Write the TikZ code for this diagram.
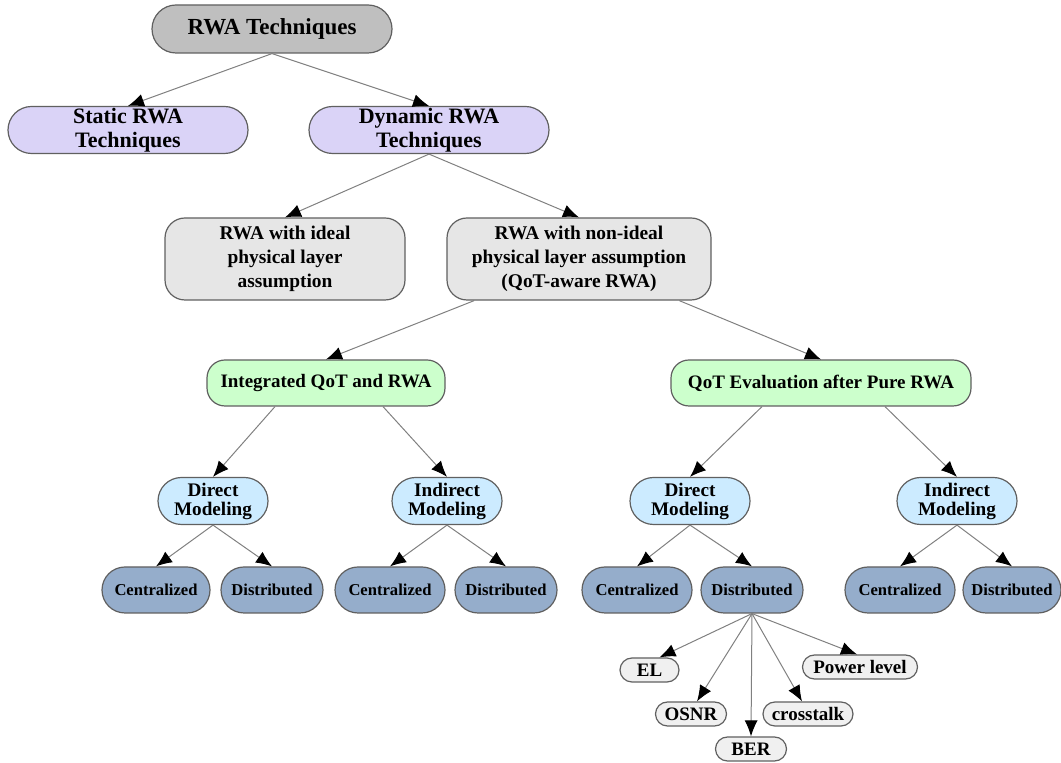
\documentclass[tikz,border=0pt]{standalone}
\usepackage{fontspec}
\setmainfont{Liberation Serif}
\usetikzlibrary{shapes,arrows.meta}
\definecolor{rootgray}{HTML}{BFBFBF}
\definecolor{lavender}{HTML}{DAD3F7}
\definecolor{lightgray}{HTML}{E6E6E6}
\definecolor{mint}{HTML}{CCFFCC}
\definecolor{skyblue}{HTML}{CCEBFF}
\definecolor{steel}{HTML}{95ADCB}
\definecolor{paper}{HTML}{F0F0F0}
\definecolor{bordergray}{HTML}{606060}
\definecolor{edgegray}{HTML}{808080}
\tikzstyle{block} = [rectangle, draw=bordergray, line width=0.6pt,
    text centered, align=center, inner sep=0pt]
\tikzstyle{pill} = [block, rounded rectangle]
\tikzstyle{topblock} = [pill, fill=rootgray, minimum width=120pt, minimum height=24pt,
    font=\bfseries\fontsize{11.5}{12}\selectfont]
\tikzstyle{kind} = [pill, fill=lavender, minimum width=120pt, minimum height=23.5pt,
    font=\bfseries\fontsize{11}{12}\selectfont]
\tikzstyle{layer} = [block, rounded corners=10pt, fill=lightgray, minimum height=41pt,
    font=\bfseries\fontsize{9.7}{12}\selectfont]
\tikzstyle{approach} = [block, rounded corners=9pt, fill=mint, minimum height=23pt,
    font=\bfseries\fontsize{9.5}{11}\selectfont]
\tikzstyle{model} = [pill, fill=skyblue, minimum height=23.5pt,
    font=\bfseries\fontsize{9.6}{9.5}\selectfont]
\tikzstyle{ctrl} = [pill, fill=steel, minimum height=23pt,
    font=\bfseries\fontsize{8.3}{10}\selectfont]
\tikzstyle{metric} = [pill, fill=paper, minimum height=12pt,
    font=\bfseries\fontsize{9.5}{10}\selectfont]
\tikzstyle{line} = [draw=edgegray, line width=0.5pt, -{Latex[length=8pt,width=6.5pt,color=black]}]

\begin{document}
\begin{tikzpicture}[x=0.5pt, y=-0.5pt]
\useasboundingbox (0,0) rectangle (1061,763);

\node [topblock] at (272,29) (rwa) {RWA Techniques};
\node [kind] at (128,130) (static) {Static RWA\\Techniques};
\node [kind] at (429,130) (dynamic) {Dynamic RWA\\Techniques};
\node [layer, minimum width=120pt] at (285,259) (ideal) {RWA with ideal\\physical layer\\assumption};
\node [layer, minimum width=132pt] at (579,259) (nonideal) {RWA with non-ideal\\physical layer assumption\\(QoT-aware RWA)};
\node [approach, minimum width=119pt] at (326,383) (integrated) {Integrated QoT and RWA};
\node [approach, minimum width=150pt] at (821,383) (evaluation) {QoT Evaluation after Pure RWA};

\node [model, minimum width=55pt] at (213,501) (directA) {Direct\\Modeling};
\node [model, minimum width=55pt] at (447,501) (indirectA) {Indirect\\Modeling};
\node [model, minimum width=60pt] at (690,501) (directB) {Direct\\Modeling};
\node [model, minimum width=60pt] at (957,501) (indirectB) {Indirect\\Modeling};

\node [ctrl, minimum width=54pt] at (156,590) (centA) {Centralized};
\node [ctrl, minimum width=51pt] at (272,590) (distA) {Distributed};
\node [ctrl, minimum width=55pt] at (390,590) (centB) {Centralized};
\node [ctrl, minimum width=51pt] at (506,590) (distB) {Distributed};
\node [ctrl, minimum width=55pt] at (637,590) (centC) {Centralized};
\node [ctrl, minimum width=51pt] at (752,590) (distC) {Distributed};
\node [ctrl, minimum width=55pt] at (900,590) (centD) {Centralized};
\node [ctrl, minimum width=49pt] at (1012,590) (distD) {Distributed};

\node [metric, minimum width=29.5pt] at (649.5,670) (el) {EL};
\node [metric, minimum width=57.5pt] at (860,667) (power) {Power level};
\node [metric, minimum width=35.5pt] at (691,714) (osnr) {OSNR};
\node [metric, minimum width=45pt] at (808,714) (xtalk) {crosstalk};
\node [metric, minimum width=35.5pt] at (751,749) (ber) {BER};

\draw [line] (rwa.south) -- (static.north);
\draw [line] (rwa.south) -- (dynamic.north);
\draw [line] (dynamic.south) -- (ideal.north);
\draw [line] (dynamic.south) -- (nonideal.north);
\draw [line] (nonideal) -- (integrated.north);
\draw [line] (nonideal) -- (evaluation.north);

\draw [line] ([xshift=-25.5pt] integrated.south) -- (directA.north);
\draw [line] ([xshift=28.5pt] integrated.south) -- (indirectA.north);
\draw [line] ([xshift=-29.5pt] evaluation.south) -- (directB.north);
\draw [line] ([xshift=32pt] evaluation.south) -- (indirectB.north);

\draw [line] (directA.south) -- (centA.north);
\draw [line] (directA.south) -- (distA.north);
\draw [line] (indirectA.south) -- (centB.north);
\draw [line] (indirectA.south) -- (distB.north);
\draw [line] (directB.south) -- (centC.north);
\draw [line] (directB.south) -- (distC.north);
\draw [line] (indirectB.south) -- (centD.north);
\draw [line] (indirectB.south) -- (distD.north);

\draw [line] (distC.south) -- ([xshift=5pt] el.north);
\draw [line] (distC.south) -- ([xshift=3pt] osnr.north);
\draw [line] (distC.south) -- (ber.north);
\draw [line] (distC.south) -- ([xshift=-3pt] xtalk.north);
\draw [line] (distC.south) -- ([xshift=-1.5pt] power.north);
\end{tikzpicture}
\end{document}
